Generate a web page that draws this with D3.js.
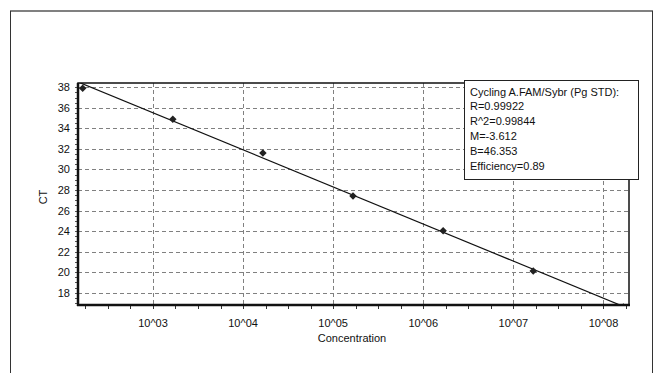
<!DOCTYPE html>
<html>
<head>
<meta charset="utf-8">
<script src="https://cdn.jsdelivr.net/npm/d3@7"></script>
<style>
  body { margin: 0; background: #fff; }
  svg { display: block; font-family: "Liberation Sans", Arial, sans-serif; }
</style>
</head>
<body>
<div class="graph"></div>
<script>
// standard curve points (concentration, CT)
const concentration = [1.66e2, 1.66e3, 1.66e4, 1.66e5, 1.66e6, 1.66e7, 1.66e8];
const ctValues = [37.9, 34.88, 31.6, 27.42, 24.04, 20.11, 16.6];
const yTicks = [18, 20, 22, 24, 26, 28, 30, 32, 34, 36, 38];
const xTicks = [1e3, 1e4, 1e5, 1e6, 1e7, 1e8];
const xTickLabels = ['10^03', '10^04', '10^05', '10^06', '10^07', '10^08'];
const legendLines = ['Cycling A.FAM/Sybr (Pg STD):', 'R=0.99922', 'R^2=0.99844', 'M=-3.612', 'B=46.353', 'Efficiency=0.89'];
const fitM = -3.612;
const fitB = 46.353;

const width = 655, height = 373;
const plot = { left: 78, right: 629, top: 83, bottom: 305 };

const svg = d3.select('.graph').append('svg')
    .attr('width', width)
    .attr('height', height);

// outer frame
svg.append('line').attr('x1', 10).attr('x2', 653).attr('y1', 11).attr('y2', 11)
    .attr('stroke', '#808080').attr('stroke-width', 2);
svg.append('line').attr('x1', 10.5).attr('x2', 10.5).attr('y1', 11).attr('y2', height)
    .attr('stroke', '#333');
svg.append('line').attr('x1', 652.5).attr('x2', 652.5).attr('y1', 11).attr('y2', height)
    .attr('stroke', '#333');

const x = d3.scaleLog()
    .domain([Math.pow(10, 2.168), Math.pow(10, 8.283)])
    .range([plot.left, plot.right]);
const y = d3.scaleLinear()
    .domain([16.8, 38.42])
    .range([plot.bottom, plot.top]);

svg.append('clipPath').attr('id', 'clip')
    .append('rect')
    .attr('x', plot.left).attr('y', plot.top)
    .attr('width', plot.right - plot.left).attr('height', plot.bottom - plot.top);

// grid
const grid = svg.append('g').attr('stroke', '#808080').attr('stroke-dasharray', '4,3');
grid.selectAll('.gy').data(yTicks).enter().append('line')
    .attr('x1', plot.left).attr('x2', plot.right)
    .attr('y1', d => Math.round(y(d)) + 0.5).attr('y2', d => Math.round(y(d)) + 0.5);
grid.selectAll('.gx').data(xTicks).enter().append('line')
    .attr('y1', plot.top).attr('y2', plot.bottom)
    .attr('x1', d => Math.round(x(d)) + 0.5).attr('x2', d => Math.round(x(d)) + 0.5);

// minor ticks
const xMinor = d3.range(9, 34).map(k => Math.pow(10, k * 0.25));
svg.append('g').selectAll('line').data(xMinor).enter().append('line')
    .attr('x1', d => Math.round(x(d)) + 0.5).attr('x2', d => Math.round(x(d)) + 0.5)
    .attr('y1', plot.bottom).attr('y2', plot.bottom + 4)
    .attr('stroke', '#333');
const yMinor = d3.range(34, 77).map(k => k * 0.5);
svg.append('g').selectAll('line').data(yMinor).enter().append('line')
    .attr('y1', d => Math.round(y(d)) + 0.5).attr('y2', d => Math.round(y(d)) + 0.5)
    .attr('x1', plot.left).attr('x2', plot.left - 3)
    .attr('stroke', '#555');

// tick labels
svg.append('g').selectAll('text').data(yTicks).enter().append('text')
    .attr('x', 70).attr('y', d => y(d) + 4)
    .attr('text-anchor', 'end').attr('font-size', 11).attr('fill', '#111')
    .text(d => d);
svg.append('g').selectAll('text').data(xTicks).enter().append('text')
    .attr('x', d => x(d)).attr('y', 327)
    .attr('text-anchor', 'middle').attr('font-size', 11).attr('fill', '#111')
    .text((d, i) => xTickLabels[i]);

// axis titles
svg.append('text').attr('transform', 'translate(47,197) rotate(-90)')
    .attr('text-anchor', 'middle').attr('font-size', 11).attr('fill', '#111').text('CT');
svg.append('text').attr('x', 352).attr('y', 342)
    .attr('text-anchor', 'middle').attr('font-size', 11).attr('fill', '#111').text('Concentration');

// fit line and points
const inner = svg.append('g').attr('clip-path', 'url(#clip)');
const [d0, d1] = x.domain();
inner.append('line')
    .attr('x1', x(d0)).attr('y1', y(fitB + fitM * Math.log10(d0)))
    .attr('x2', x(d1)).attr('y2', y(fitB + fitM * Math.log10(d1)))
    .attr('stroke', '#111').attr('stroke-width', 1.2);
inner.selectAll('path').data(concentration).enter().append('path')
    .attr('d', d3.symbol().type(d3.symbolDiamond2).size(36))
    .attr('transform', (d, i) => `translate(${x(d)},${y(ctValues[i])})`)
    .attr('fill', '#222');

// plot frame
svg.append('rect')
    .attr('x', plot.left).attr('y', plot.top)
    .attr('width', plot.right - plot.left).attr('height', plot.bottom - plot.top)
    .attr('fill', 'none').attr('stroke', '#111').attr('stroke-width', 1.5);
svg.append('line').attr('x1', plot.left).attr('x2', plot.left).attr('y1', plot.top).attr('y2', plot.bottom + 1)
    .attr('stroke', '#111').attr('stroke-width', 2.5);
svg.append('line').attr('x1', plot.left - 1).attr('x2', plot.right + 1).attr('y1', plot.bottom).attr('y2', plot.bottom)
    .attr('stroke', '#111').attr('stroke-width', 2.5);

// legend box
const legend = svg.append('g');
legend.append('rect')
    .attr('x', 464.5).attr('y', 80.5).attr('width', 174).attr('height', 99)
    .attr('fill', '#fff').attr('stroke', '#222');
legend.selectAll('text').data(legendLines).enter().append('text')
    .attr('x', 470).attr('y', (d, i) => 95.5 + i * 14.8)
    .attr('font-size', 11).attr('fill', '#111')
    .text(d => d);
</script>
</body>
</html>
